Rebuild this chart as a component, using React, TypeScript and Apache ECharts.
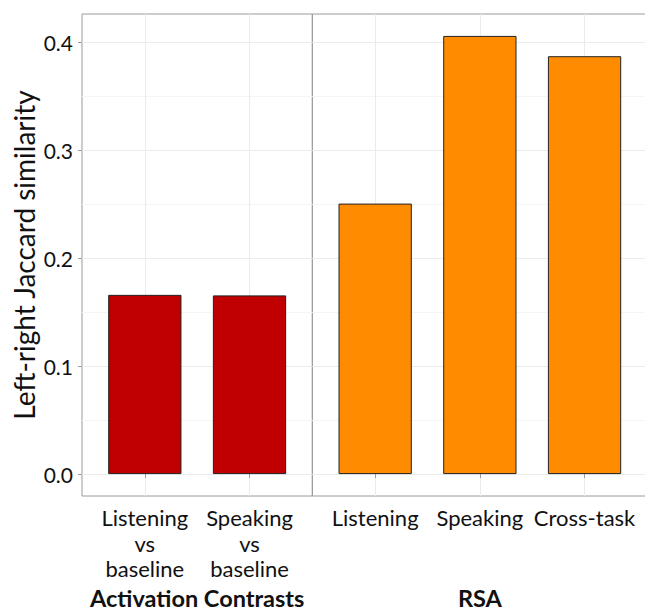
import React, { useEffect, useRef } from "react";
import * as echarts from "echarts";

const activationCategories = ["Listening\nvs\nbaseline", "Speaking\nvs\nbaseline"];
const activationValues = [0.166, 0.1655];
const rsaCategories = ["Listening", "Speaking", "Cross-task"];
const rsaValues = [0.2505, 0.4058, 0.387];
const yTicks = [0, 0.1, 0.2, 0.3, 0.4];
const facetLabels = ["Activation Contrasts", "RSA"];
const yTitle = "Left-right Jaccard similarity";

const FONT = "Lato";
const TEXT = "#111111";
const BORDER = "#9a9a9a";
const GRID_MAJOR = "#ebebeb";
const GRID_MINOR = "#f5f5f5";

export default function App() {
  const ref = useRef<HTMLDivElement>(null);

  useEffect(() => {
    if (!ref.current) return;
    const chart = echarts.init(ref.current, undefined, { renderer: "svg" });

    const allValues = [...activationValues, ...rsaValues];
    const yMaxData = Math.max(...allValues);
    const pad = yMaxData * 0.05;
    const yMin = -pad;
    const yMax = yMaxData + pad;

    const unit = 104.7;
    const left0 = 82;
    const top = 14;
    const height = 482;
    const w0 = (activationCategories.length + 0.2) * unit;
    const w1 = (rsaCategories.length + 0.2) * unit;
    const barW = 0.7 * unit;

    const panels = [
      { cats: activationCategories, vals: activationValues, color: "#C00000", left: left0, width: w0 },
      { cats: rsaCategories, vals: rsaValues, color: "#FF8C00", left: left0 + w0, width: w1 },
    ];

    const option: any = {
      animation: false,
      backgroundColor: "#ffffff",
      textStyle: { fontFamily: FONT },
      grid: panels.map((p) => ({
        left: p.left,
        top,
        width: p.width,
        height,
        show: true,
        borderColor: BORDER,
        borderWidth: 1,
        backgroundColor: "transparent",
        containLabel: false,
        outerBoundsMode: "none",
      })),
      xAxis: panels.map((p, i) => {
        const centers = p.cats.map((_, k) => k + 1);
        return {
          type: "value",
          gridIndex: i,
          min: 0.4,
          max: p.cats.length + 0.6,
          name: facetLabels[i],
          nameLocation: "middle",
          nameGap: 90,
          nameTextStyle: { fontFamily: FONT, fontSize: 23.5, fontWeight: "bold", color: TEXT },
          axisLine: { show: false },
          axisTick: { show: true, length: 4, lineStyle: { color: BORDER }, customValues: centers },
          axisLabel: {
            customValues: centers,
            formatter: (v: number) => p.cats[Math.round(v) - 1] ?? "",
            fontFamily: FONT,
            fontSize: 22,
            lineHeight: 25.5,
            color: TEXT,
            margin: 9,
          },
          splitLine: { show: true, lineStyle: { color: GRID_MAJOR, width: 1 } },
        };
      }),
      yAxis: panels.map((p, i) => ({
        type: "value",
        gridIndex: i,
        min: yMin,
        max: yMax,
        name: i === 0 ? yTitle : "",
        nameLocation: "middle",
        nameGap: 44,
        nameTextStyle: { fontFamily: FONT, fontSize: 28, color: TEXT },
        axisLine: { show: false },
        axisTick: {
          show: i === 0,
          length: 4,
          lineStyle: { color: BORDER },
          customValues: yTicks,
        },
        axisLabel: {
          show: i === 0,
          customValues: yTicks,
          formatter: (v: number) => v.toFixed(1),
          fontFamily: FONT,
          fontSize: 21,
          color: TEXT,
          margin: 9,
        },
        splitLine: { show: true, lineStyle: { color: GRID_MAJOR, width: 1 } },
        minorTick: { show: false, splitNumber: 2 },
        minorSplitLine: { show: true, lineStyle: { color: GRID_MINOR, width: 1 } },
      })),
      series: panels.map((p, i) => ({
        type: "bar",
        xAxisIndex: i,
        yAxisIndex: i,
        barWidth: barW,
        data: p.vals.map((v, k) => [k + 1, v]),
        itemStyle: { color: p.color, borderColor: "#222222", borderWidth: 1 },
      })),
    };

    chart.setOption(option);
    return () => chart.dispose();
  }, []);

  return (
    <div
      ref={ref}
      style={{ position: "absolute", left: 0, top: 0, width: 645, height: 611, background: "#fff" }}
    />
  );
}
